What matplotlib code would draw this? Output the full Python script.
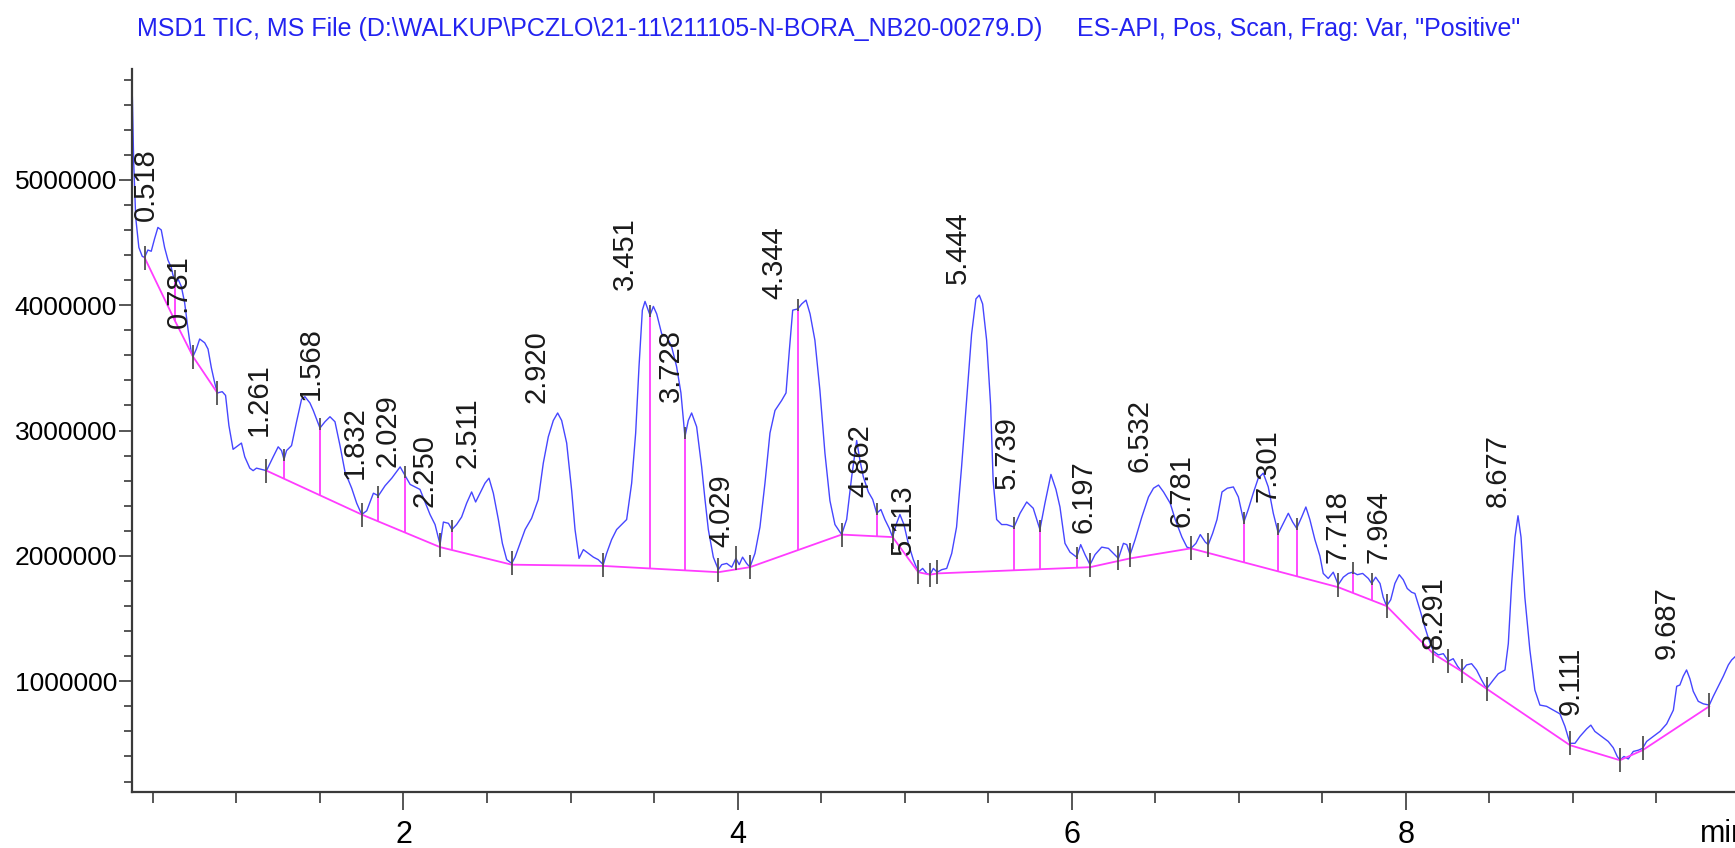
import matplotlib
matplotlib.use("Agg")
import matplotlib.pyplot as plt
from matplotlib.ticker import MultipleLocator, FuncFormatter
from matplotlib.path import Path
import numpy as np

plt.rcParams['font.family'] = ['Liberation Sans', 'DejaVu Sans']

# TIC trace: time (min) and intensity (millions of counts)
trace_t = [0.377, 0.385, 0.397, 0.416, 0.436, 0.450, 0.470, 0.490, 0.510, 0.530,
           0.550, 0.570, 0.590, 0.610, 0.620, 0.640, 0.650, 0.670, 0.690, 0.710,
           0.730, 0.740, 0.760, 0.780, 0.810, 0.830, 0.850, 0.870, 0.886, 0.915,
           0.935, 0.955, 0.980, 1.000, 1.030, 1.050, 1.080, 1.100, 1.120, 1.150,
           1.180, 1.220, 1.250, 1.270, 1.285, 1.300, 1.330, 1.360, 1.390, 1.410,
           1.440, 1.460, 1.500, 1.530, 1.560, 1.590, 1.620, 1.650, 1.690, 1.720,
           1.750, 1.780, 1.820, 1.850, 1.890, 1.930, 1.980, 2.010, 2.040, 2.069,
           2.099, 2.129, 2.159, 2.189, 2.219, 2.239, 2.269, 2.290, 2.318, 2.348,
           2.378, 2.408, 2.432, 2.458, 2.488, 2.512, 2.538, 2.568, 2.592, 2.618,
           2.648, 2.668, 2.698, 2.728, 2.767, 2.807, 2.837, 2.867, 2.897, 2.923,
           2.947, 2.977, 3.007, 3.027, 3.051, 3.077, 3.107, 3.137, 3.166, 3.196,
           3.216, 3.246, 3.276, 3.306, 3.336, 3.366, 3.390, 3.410, 3.430, 3.446,
           3.476, 3.496, 3.516, 3.546, 3.576, 3.605, 3.635, 3.661, 3.685, 3.705,
           3.725, 3.755, 3.785, 3.805, 3.825, 3.855, 3.885, 3.905, 3.935, 3.965,
           3.990, 4.010, 4.030, 4.054, 4.074, 4.104, 4.134, 4.164, 4.194, 4.224,
           4.264, 4.290, 4.310, 4.330, 4.360, 4.384, 4.410, 4.434, 4.463, 4.493,
           4.523, 4.553, 4.583, 4.623, 4.653, 4.683, 4.713, 4.733, 4.753, 4.783,
           4.809, 4.833, 4.858, 4.882, 4.908, 4.928, 4.952, 4.972, 4.996, 5.022,
           5.052, 5.082, 5.108, 5.132, 5.152, 5.172, 5.195, 5.222, 5.252, 5.282,
           5.311, 5.341, 5.371, 5.401, 5.427, 5.447, 5.467, 5.491, 5.515, 5.530,
           5.551, 5.581, 5.611, 5.655, 5.691, 5.731, 5.770, 5.810, 5.840, 5.876,
           5.906, 5.930, 5.960, 5.990, 6.030, 6.054, 6.080, 6.110, 6.140, 6.180,
           6.220, 6.250, 6.280, 6.310, 6.330, 6.350, 6.380, 6.420, 6.460, 6.490,
           6.520, 6.550, 6.590, 6.620, 6.660, 6.690, 6.714, 6.744, 6.770, 6.800,
           6.818, 6.844, 6.870, 6.900, 6.932, 6.968, 6.998, 7.031, 7.057, 7.087,
           7.117, 7.147, 7.177, 7.207, 7.237, 7.267, 7.297, 7.323, 7.347, 7.377,
           7.402, 7.426, 7.456, 7.486, 7.506, 7.536, 7.566, 7.596, 7.626, 7.656,
           7.682, 7.710, 7.742, 7.776, 7.796, 7.820, 7.846, 7.865, 7.885, 7.910,
           7.935, 7.961, 7.985, 8.009, 8.035, 8.055, 8.085, 8.115, 8.141, 8.165,
           8.195, 8.225, 8.255, 8.284, 8.310, 8.334, 8.364, 8.394, 8.424, 8.454,
           8.484, 8.524, 8.554, 8.594, 8.614, 8.634, 8.654, 8.672, 8.690, 8.713,
           8.743, 8.773, 8.803, 8.843, 8.883, 8.923, 8.953, 8.983, 9.013, 9.043,
           9.083, 9.108, 9.132, 9.172, 9.212, 9.242, 9.266, 9.282, 9.306, 9.332,
           9.362, 9.392, 9.418, 9.442, 9.482, 9.522, 9.562, 9.602, 9.622, 9.641,
           9.661, 9.681, 9.701, 9.721, 9.751, 9.781, 9.817, 9.841, 9.871, 9.901,
           9.931, 9.951, 9.975]
trace_i = [5.66, 5.14, 4.70, 4.46, 4.39, 4.38, 4.44, 4.43, 4.53, 4.62,
           4.60, 4.46, 4.36, 4.30, 4.24, 4.18, 4.21, 4.15, 4.02, 3.81,
           3.62, 3.59, 3.65, 3.73, 3.70, 3.65, 3.50, 3.38, 3.30, 3.31,
           3.28, 3.04, 2.85, 2.87, 2.90, 2.79, 2.70, 2.68, 2.70, 2.69,
           2.68, 2.79, 2.87, 2.84, 2.77, 2.84, 2.88, 3.07, 3.25, 3.27,
           3.22, 3.16, 3.02, 3.07, 3.11, 3.07, 2.88, 2.67, 2.54, 2.42,
           2.33, 2.36, 2.50, 2.48, 2.56, 2.62, 2.71, 2.64, 2.57, 2.55,
           2.53, 2.43, 2.33, 2.25, 2.09, 2.27, 2.26, 2.21, 2.25, 2.31,
           2.42, 2.51, 2.43, 2.50, 2.58, 2.62, 2.50, 2.29, 2.10, 1.97,
           1.94, 1.99, 2.10, 2.21, 2.30, 2.45, 2.74, 2.95, 3.08, 3.14,
           3.08, 2.90, 2.52, 2.21, 1.98, 2.05, 2.02, 1.99, 1.97, 1.93,
           2.02, 2.13, 2.21, 2.25, 2.29, 2.58, 2.98, 3.51, 3.96, 4.03,
           3.92, 3.99, 3.93, 3.77, 3.75, 3.67, 3.51, 3.30, 2.95, 3.08,
           3.14, 3.03, 2.71, 2.45, 2.21, 1.99, 1.89, 1.93, 1.94, 1.91,
           1.98, 1.93, 1.99, 1.94, 1.91, 2.02, 2.23, 2.58, 2.98, 3.16,
           3.24, 3.30, 3.64, 3.96, 3.97, 4.01, 4.04, 3.93, 3.72, 3.32,
           2.82, 2.44, 2.25, 2.17, 2.29, 2.63, 2.92, 2.76, 2.63, 2.51,
           2.45, 2.34, 2.37, 2.29, 2.22, 2.15, 2.26, 2.33, 2.25, 2.10,
           1.97, 1.87, 1.90, 1.86, 1.85, 1.90, 1.87, 1.89, 1.90, 2.02,
           2.23, 2.71, 3.24, 3.77, 4.05, 4.08, 4.01, 3.72, 3.20, 2.60,
           2.29, 2.25, 2.25, 2.23, 2.34, 2.43, 2.38, 2.21, 2.42, 2.65,
           2.53, 2.39, 2.10, 2.03, 1.99, 2.09, 2.01, 1.93, 2.01, 2.07,
           2.06, 2.02, 1.98, 2.10, 2.09, 2.01, 2.13, 2.31, 2.47, 2.54,
           2.565, 2.51, 2.42, 2.29, 2.15, 2.07, 2.06, 2.10, 2.17, 2.11,
           2.09, 2.18, 2.29, 2.51, 2.54, 2.55, 2.47, 2.27, 2.37, 2.50,
           2.62, 2.66, 2.55, 2.34, 2.18, 2.26, 2.34, 2.27, 2.22, 2.31,
           2.39, 2.29, 2.13, 2.00, 1.86, 1.82, 1.87, 1.77, 1.83, 1.86,
           1.87, 1.85, 1.86, 1.82, 1.78, 1.83, 1.78, 1.67, 1.60, 1.65,
           1.78, 1.85, 1.81, 1.74, 1.71, 1.70, 1.57, 1.43, 1.32, 1.24,
           1.21, 1.22, 1.16, 1.18, 1.12, 1.08, 1.13, 1.14, 1.09, 1.01,
           0.94, 1.01, 1.06, 1.09, 1.30, 1.78, 2.15, 2.32, 2.15, 1.67,
           1.25, 0.93, 0.81, 0.80, 0.77, 0.74, 0.64, 0.505, 0.505, 0.56,
           0.62, 0.65, 0.60, 0.56, 0.52, 0.47, 0.40, 0.37, 0.40, 0.38,
           0.44, 0.45, 0.465, 0.52, 0.56, 0.60, 0.66, 0.77, 0.96, 0.97,
           1.04, 1.09, 1.02, 0.92, 0.84, 0.82, 0.81, 0.88, 0.96, 1.04,
           1.13, 1.17, 1.20]

# integration baselines (magenta)
base1_t = [0.450, 0.634, 0.740, 0.886]
base1_i = [4.38, 3.87, 3.59, 3.30]
base2_t = [1.180, 1.750, 2.219, 2.648, 3.196, 3.885, 4.074, 4.623, 4.928, 5.082,
           5.152, 5.195, 6.110, 6.350, 6.714, 7.596, 7.885, 8.165, 8.334, 8.484,
           8.983, 9.282, 9.418, 9.817]
base2_i = [2.68, 2.33, 2.07, 1.93, 1.92, 1.87, 1.91, 2.17, 2.15, 1.87,
           1.85, 1.86, 1.91, 1.98, 2.06, 1.75, 1.60, 1.22, 1.08, 0.94,
           0.49, 0.37, 0.45, 0.80]

# drop lines between merged peaks
drop_times = [0.634, 1.285, 1.500, 1.850, 2.010, 2.290, 3.476, 3.685, 4.360, 4.833,
              5.655, 5.810, 6.030, 7.031, 7.237, 7.347, 7.682, 7.796]

# peak start / end marks
edge_ticks = [0.450, 0.740, 0.886, 1.180, 1.750, 2.219, 2.648, 3.196, 3.885, 3.990,
              4.074, 4.623, 4.928, 5.082, 5.152, 5.195, 6.110, 6.280, 6.350, 6.714,
              6.818, 7.596, 7.885, 8.165, 8.255, 8.334, 8.484, 8.983, 9.282, 9.418,
              9.817]

# retention time labels and the height where each label sits
peak_times = [0.518, 0.781, 1.261, 1.568, 1.832, 2.029, 2.250, 2.511, 2.920, 3.451,
              3.728, 4.029, 4.344, 4.862, 5.113, 5.444, 5.739, 6.197, 6.532, 6.781,
              7.301, 7.718, 7.964, 8.291, 8.677, 9.111, 9.687]
label_base = [4.67, 3.82, 2.96, 3.24, 2.61, 2.71, 2.39, 2.70, 3.22, 4.12,
              3.23, 2.07, 4.05, 2.47, 2.01, 4.17, 2.53, 2.18, 2.67, 2.23,
              2.43, 1.94, 1.94, 1.26, 2.39, 0.73, 1.18]

TITLE_LEFT = "MSD1 TIC, MS File (D:\\WALKUP\\PCZLO\\21-11\\211105-N-BORA_NB20-00279.D)"
TITLE_RIGHT = 'ES-API, Pos, Scan, Frag: Var, "Positive"'

BLUE = '#4646ff'
MAGENTA = '#ff3cff'
GREY = '#505050'
M = 1e6
XMIN, XMAX = 0.373, 9.971

tt = np.array(trace_t)
ti = np.array(trace_i) * M

fig = plt.figure(figsize=(17.35, 8.48), dpi=100)
ax = fig.add_axes([0.0759, 0.0658, 0.9241, 0.8533])

ax.plot(tt, ti, color=BLUE, lw=1.0, zorder=2)
ax.plot(base1_t, np.array(base1_i) * M, color=MAGENTA, lw=1.3, zorder=3)
ax.plot(base2_t, np.array(base2_i) * M, color=MAGENTA, lw=1.3, zorder=3)

# drop lines from the curve down to the baseline
drop_top = np.interp(drop_times, tt, ti)
drop_bot = []
for t in drop_times:
    if t < base1_t[-1]:
        drop_bot.append(np.interp(t, base1_t, base1_i) * M)
    else:
        drop_bot.append(np.interp(t, base2_t, base2_i) * M)
ax.vlines(drop_times, drop_bot, drop_top, colors=MAGENTA, lw=1.3, zorder=3)

# grey marks
tick_up = Path([(0, -0.2), (0, 1)], [Path.MOVETO, Path.LINETO])
ax.plot(drop_times, drop_top, ls='none', marker=tick_up, ms=14, mew=1.3,
        mec=GREY, mfc='none', zorder=4)
ax.plot(edge_ticks, np.interp(edge_ticks, tt, ti), ls='none', marker='|', ms=17,
        mew=1.3, color=GREY, zorder=4)

for t, b in zip(peak_times, label_base):
    # keep the first label clear of the y axis
    dx = 4 if t - XMIN < 0.2 else -7
    ax.annotate(f"{t:.3f}", xy=(t, b * M), xytext=(dx, 0), textcoords='offset pixels',
                rotation=90, ha='right', va='bottom', fontsize=21,
                color='#1a1a1a', zorder=5)

ax.set_xlim(XMIN, XMAX)
ax.set_ylim(0.115 * M, 5.887 * M)

ax.xaxis.set_major_locator(MultipleLocator(2))
ax.xaxis.set_minor_locator(MultipleLocator(0.5))
ax.yaxis.set_major_locator(MultipleLocator(1e6))
ax.yaxis.set_minor_locator(MultipleLocator(2e5))
ax.yaxis.set_major_formatter(FuncFormatter(lambda v, p: f"{v:.0f}"))
ax.xaxis.set_major_formatter(FuncFormatter(lambda v, p: f"{v:.0f}"))

for side in ['top', 'right']:
    ax.spines[side].set_visible(False)
for side in ['left', 'bottom']:
    ax.spines[side].set_color('#3a3a3a')
    ax.spines[side].set_linewidth(1.6)

ax.tick_params(axis='y', which='major', length=9.5, width=1.2, color='#3a3a3a', pad=1, labelsize=19)
ax.tick_params(axis='y', which='minor', length=5.5, width=1.2, color='#3a3a3a')
ax.tick_params(axis='x', which='major', length=13, width=1.2, color='#3a3a3a', pad=7, labelsize=22)
ax.tick_params(axis='x', which='minor', length=8, width=1.2, color='#3a3a3a')

fig.text(137 / 1735, 1 - 29 / 848, TITLE_LEFT, color='#2323f0', fontsize=18, va='center', ha='left')
fig.text(1077 / 1735, 1 - 29 / 848, TITLE_RIGHT, color='#2323f0', fontsize=18, va='center', ha='left')
# axis unit, cut by the right edge as in the original export
fig.text(1700 / 1735, 1 - 834 / 848, 'min', fontsize=22, va='center', ha='left')

fig.savefig('out.png', dpi=100)
